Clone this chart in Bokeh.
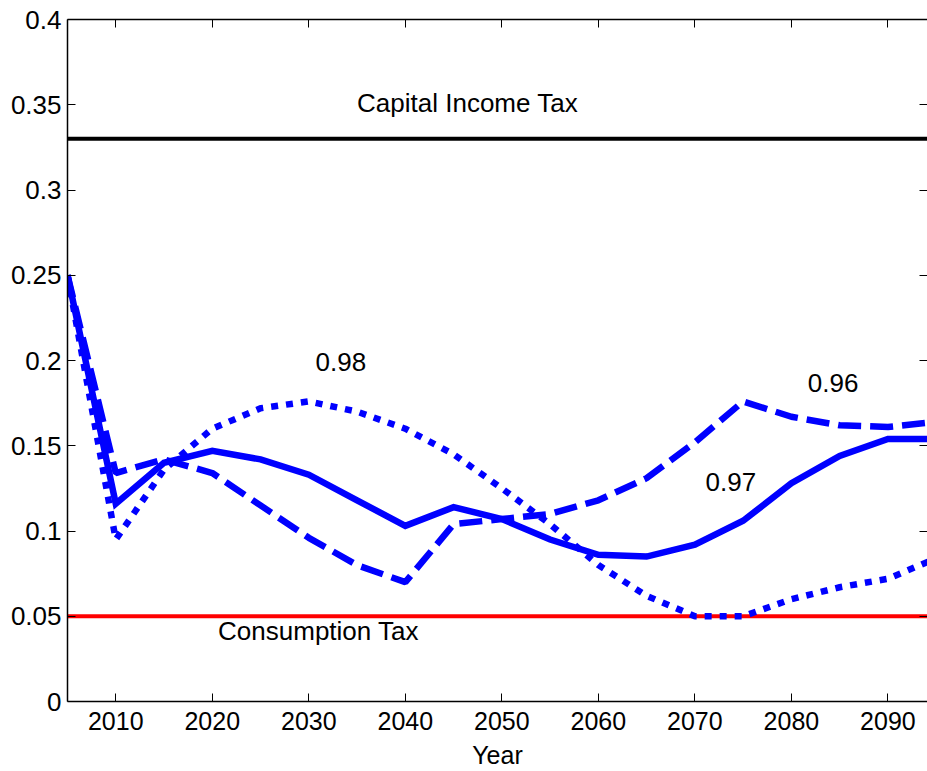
from bokeh.plotting import figure
from bokeh.models import LinearAxis, FixedTicker, Range1d
from bokeh.core.properties import value
from bokeh.embed import file_html
from bokeh.resources import INLINE

# ---- data ----
years = [2005, 2010, 2015, 2020, 2025, 2030, 2035, 2040, 2045, 2050,
         2055, 2060, 2065, 2070, 2075, 2080, 2085, 2090, 2095]
beta_097 = [0.250, 0.116, 0.140, 0.147, 0.142, 0.133, 0.118, 0.103, 0.114, 0.107,
            0.095, 0.086, 0.085, 0.092, 0.106, 0.128, 0.144, 0.154, 0.154]
beta_096 = [0.250, 0.134, 0.142, 0.134, 0.115, 0.096, 0.080, 0.070, 0.104, 0.107,
            0.110, 0.118, 0.131, 0.152, 0.176, 0.167, 0.162, 0.161, 0.164]
beta_098 = [0.250, 0.095, 0.136, 0.160, 0.172, 0.176, 0.170, 0.160, 0.145, 0.125,
            0.104, 0.080, 0.062, 0.050, 0.050, 0.060, 0.067, 0.072, 0.084]
capital_income_tax = 0.33
consumption_tax = 0.05

x_ticks = [2010, 2020, 2030, 2040, 2050, 2060, 2070, 2080, 2090]
y_ticks = [0, 0.05, 0.1, 0.15, 0.2, 0.25, 0.3, 0.35, 0.4]
y_tick_labels = ["0", "0.05", "0.1", "0.15", "0.2", "0.25", "0.3", "0.35", "0.4"]

annotations = [
    ("Capital Income Tax", 2035.0, 0.351),
    ("Consumption Tax", 2020.6, 0.0415),
    ("0.98", 2030.7, 0.199),
    ("0.96", 2081.7, 0.187),
    ("0.97", 2071.1, 0.129),
]

FONT = "Liberation Sans"

p = figure(width=927, height=771, output_backend="svg", toolbar_location=None,
           x_range=Range1d(2005, 2094.1), y_range=Range1d(0, 0.4),
           x_axis_label="Year",
           min_border_left=67, min_border_top=19, min_border_right=0, min_border_bottom=68)
p.grid.visible = False
p.outline_line_color = None
p.background_fill_color = "white"
p.border_fill_color = "white"

# reference lines
p.line([years[0], years[-1]], [capital_income_tax] * 2, line_color="black", line_width=4)
p.line([years[0], years[-1]], [consumption_tax] * 2, line_color="red", line_width=4)

# series
p.line(years, beta_097, line_color="blue", line_width=6.5, line_join="miter")
p.line(years, beta_096, line_color="blue", line_width=6.5, line_dash="23 9")
p.line(years, beta_098, line_color="blue", line_width=6.5, line_dash="7 8")

for txt, x, y in annotations:
    p.text(x=[x], y=[y], text=[txt], text_font=value(FONT), text_font_size="26px",
           text_baseline="middle", text_align="left", text_color="black")

# axes styling
xa = p.xaxis[0]
ya = p.yaxis[0]
xa.ticker = FixedTicker(ticks=x_ticks)
ya.ticker = FixedTicker(ticks=y_ticks)
ya.major_label_overrides = {t: l for t, l in zip(y_ticks, y_tick_labels)}
for ax in (xa, ya):
    ax.major_tick_in = 8
    ax.major_tick_out = 0
    ax.minor_tick_line_color = None
    ax.major_label_text_font = FONT
    ax.major_label_text_color = "black"
    ax.axis_line_color = "black"
    ax.axis_line_width = 1.5
    ax.major_tick_line_color = "black"
xa.major_label_text_font_size = "25px"
ya.major_label_text_font_size = "26px"
xa.major_label_standoff = 10
ya.major_label_standoff = 6
xa.axis_label_text_font = FONT
xa.axis_label_text_font_size = "25px"
xa.axis_label_text_font_style = "normal"
xa.axis_label_text_color = "black"
xa.axis_label_standoff = 8

top = LinearAxis(ticker=FixedTicker(ticks=x_ticks), major_tick_in=8, major_tick_out=0,
                 minor_tick_line_color=None, major_label_text_font_size="0px",
                 major_label_standoff=0, axis_line_color="black", axis_line_width=1.5)
top.major_label_overrides = {t: "" for t in x_ticks}
p.add_layout(top, "above")

right = LinearAxis(ticker=FixedTicker(ticks=y_ticks), major_tick_in=8, major_tick_out=0,
                   minor_tick_line_color=None, major_label_text_font_size="0px",
                   major_label_standoff=0, axis_line_color=None)
right.major_label_overrides = {t: "" for t in y_ticks}
p.add_layout(right, "right")

open("out.html", "w").write(file_html(p, INLINE))
